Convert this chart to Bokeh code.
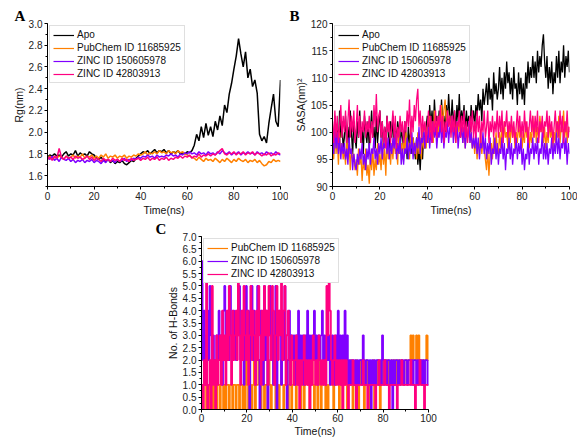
import numpy as np
from bokeh.plotting import figure
from bokeh.models import (Legend, LegendItem, SingleIntervalTicker, NumeralTickFormatter,
                          Title, Range1d, Spacer)
from bokeh.layouts import row, column
from bokeh.embed import file_html
from bokeh.resources import INLINE

series_names = ["Apo", "PubChem ID 11685925", "ZINC ID 150605978", "ZINC ID 42803913"]
series_colors = ["#000000", "#FF8000", "#8000FF", "#FF0080"]

time_rg = list(range(0, 101))                 # 1 ns sampling (Rg)
time_sasa = [i * 0.5 for i in range(201)]     # 0.5 ns sampling (SASA)
time_hb = [i * 0.5 for i in range(201)]       # 0.5 ns sampling (H-bonds)

# ---------------- Panel A : Rg (nm) ----------------
rg_apo = [1.77,1.79,1.78,1.80,1.78,1.79,1.77,1.80,1.82,1.78,
          1.80,1.79,1.83,1.78,1.81,1.79,1.80,1.78,1.82,1.80,
          1.79,1.76,1.75,1.77,1.74,1.73,1.75,1.72,1.74,1.71,
          1.73,1.72,1.74,1.71,1.70,1.72,1.74,1.73,1.76,1.78,
          1.80,1.82,1.81,1.83,1.80,1.82,1.84,1.81,1.83,1.82,
          1.84,1.81,1.83,1.80,1.82,1.81,1.83,1.80,1.81,1.80,
          1.82,1.81,1.83,1.88,1.98,1.92,2.05,1.95,2.08,1.97,
          2.05,1.96,2.10,2.02,2.15,2.06,2.25,2.18,2.35,2.45,
          2.58,2.70,2.86,2.72,2.60,2.74,2.50,2.58,2.42,2.48,
          2.36,1.98,1.92,1.96,1.90,2.08,2.22,2.35,2.10,2.05,
          2.48]
rg_pubchem = [1.76,1.78,1.75,1.77,1.76,1.78,1.77,1.75,1.78,1.76,
              1.77,1.79,1.76,1.78,1.77,1.80,1.76,1.78,1.77,1.79,
              1.76,1.78,1.76,1.79,1.77,1.80,1.76,1.78,1.77,1.79,
              1.76,1.78,1.77,1.79,1.76,1.78,1.77,1.79,1.78,1.80,
              1.79,1.80,1.82,1.79,1.81,1.80,1.82,1.80,1.83,1.81,
              1.82,1.80,1.83,1.81,1.82,1.80,1.83,1.81,1.82,1.80,
              1.79,1.78,1.77,1.76,1.74,1.77,1.75,1.73,1.76,1.74,
              1.75,1.73,1.76,1.74,1.72,1.75,1.73,1.76,1.74,1.72,
              1.75,1.73,1.76,1.74,1.73,1.75,1.72,1.74,1.73,1.75,
              1.72,1.74,1.71,1.69,1.70,1.73,1.72,1.75,1.73,1.74,
              1.73]
rg_zinc150 = [1.77,1.75,1.78,1.74,1.76,1.73,1.77,1.75,1.74,1.76,
              1.73,1.75,1.72,1.74,1.73,1.75,1.72,1.74,1.73,1.75,
              1.72,1.74,1.73,1.71,1.74,1.72,1.75,1.73,1.74,1.72,
              1.75,1.73,1.74,1.76,1.73,1.75,1.74,1.76,1.75,1.77,
              1.76,1.78,1.77,1.79,1.77,1.78,1.76,1.79,1.77,1.78,
              1.77,1.79,1.78,1.80,1.78,1.79,1.77,1.80,1.79,1.81,
              1.80,1.82,1.80,1.81,1.79,1.82,1.80,1.81,1.79,1.82,
              1.80,1.81,1.79,1.82,1.80,1.83,1.81,1.80,1.82,1.79,
              1.81,1.80,1.82,1.79,1.81,1.80,1.82,1.80,1.81,1.79,
              1.82,1.80,1.81,1.79,1.82,1.80,1.81,1.79,1.82,1.80,
              1.79]
rg_zinc428 = [1.75,1.77,1.74,1.78,1.76,1.85,1.77,1.75,1.78,1.76,
              1.77,1.75,1.78,1.76,1.77,1.75,1.76,1.78,1.75,1.77,
              1.74,1.76,1.75,1.73,1.76,1.74,1.75,1.73,1.76,1.74,
              1.75,1.73,1.76,1.74,1.75,1.73,1.76,1.74,1.75,1.76,
              1.74,1.76,1.75,1.77,1.74,1.76,1.75,1.77,1.74,1.76,
              1.75,1.77,1.74,1.76,1.75,1.77,1.76,1.78,1.76,1.78,
              1.77,1.79,1.76,1.78,1.77,1.80,1.77,1.79,1.78,1.80,
              1.78,1.80,1.79,1.81,1.83,1.85,1.80,1.79,1.81,1.80,
              1.82,1.79,1.81,1.80,1.82,1.79,1.81,1.80,1.82,1.79,
              1.81,1.80,1.78,1.80,1.79,1.81,1.78,1.80,1.79,1.81,
              1.80]

# ---------------- Panel B : SASA (nm^2), 0.5 ns ----------------
sasa_apo = [100,96,103,98,101,97,104,99,102,97, 99,103,97,101,98,104,100,96,102,99,
            97,102,99,104,98,101,96,103,100,98, 102,97,100,104,99,101,97,103,98,101,
            104,99,102,97,101,98,103,100,96,102, 99,103,97,101,98,102,100,96,101,99,
            97,102,99,95,101,98,100,96,99,97, 95,99,94,97,93,98,95,100,97,101,
            103,99,105,101,104,100,106,102,103,100, 104,101,106,102,103,100,105,102,107,103,
            102,106,101,104,100,105,102,107,101,104, 102,105,100,104,101,103,100,105,102,104,
            101,105,103,107,104,106,102,108,105,107, 109,105,110,106,108,104,111,107,109,106,
            108,112,107,110,106,111,108,113,109,111, 107,110,106,112,108,109,105,111,107,110,
            106,109,105,111,108,113,109,112,110,114, 110,113,109,115,111,114,112,116,118,113,
            110,114,108,112,109,113,107,111,109,114, 110,115,109,113,111,116,110,114,112,115,
            111]
sasa_pubchem = [98,95,101,96,99,94,100,96,98,95, 97,94,99,95,98,93,97,95,96,93,
                95,92,97,94,96,91,95,93,97,92, 94,90.5,96,93,97,92,95,93,98,94,
                96,93,98,94,97,92,99,95,97,94, 98,95,99,96,97,94,100,96,98,95,
                99,96,100,97,98,95,101,97,99,96, 98,95,100,96,99,95,101,97,99,97,
                101,98,103,99,102,98,104,100,102,99, 103,100,105,101,104,106,102,104,101,103,
                100,103,99,102,98,101,100,103,99,101, 98,101,97,100,99,102,98,100,97,99,
                96,99,95,98,97,100,96,99,97,95, 93,97,92,96,98,95,99,96,100,97,
                96,100,97,101,98,102,99,100,97,101, 98,102,99,101,97,100,98,102,99,101,
                97,100,98,102,99,101,97,100,98,103, 99,102,98,101,99,103,100,102,98,101,
                97,100,98,102,99,101,97,100,98,102, 99,103,98,101,100,104,99,102,98,101,
                100]
sasa_zinc150 = [99,96,101,97,100,96,99,95,98,96, 98,95,97,94,99,96,97,93,96,94,
                93,96,94,97,95,98,94,96,93,97, 95,98,94,97,96,99,95,97,94,98,
                96,99,95,98,97,100,96,99,95,98, 96,99,97,100,95,98,96,99,94,97,
                94,97,96,99,95,98,96,100,95,98, 96,99,97,101,96,99,98,101,97,100,
                98,101,97,100,98,102,99,101,97,100, 99,102,98,101,97,100,99,102,98,101,
                100,103,98,101,99,102,97,100,99,101, 98,101,97,100,99,102,98,100,97,99,
                97,100,96,99,95,98,97,100,96,99, 95,98,96,99,94,97,96,99,95,98,
                94,97,96,99,95,98,93,97,96,99, 95,98,94,97,96,99,95,98,96,99,
                94,97,93,96,95,99,94,97,96,99, 95,98,96,99,94,97,96,100,95,98,
                95,98,94,97,96,99,95,98,96,100, 96,99,95,98,97,100,96,99,94,98,
                96]
sasa_zinc428 = [102,98,104,99,103,98,101,105,99,103, 100,104,98,102,106,99,103,100,104,98,
                101,105,99,103,98,102,100,104,99,102, 100,103,98,102,99,105,101,107,100,103,
                104,99,102,98,101,97,103,100,102,98, 101,104,99,103,97,101,99,103,100,102,
                98,102,100,104,101,106,99,103,100,105, 102,106,108,101,104,99,103,100,102,98,
                101,104,99,103,98,102,100,104,99,103, 101,105,100,103,98,102,100,104,101,103,
                99,103,100,104,98,102,101,104,99,103, 100,104,99,102,98,101,103,100,104,99,
                102,99,104,100,103,98,102,100,104,99, 101,104,98,102,100,103,99,102,100,104,
                99,103,100,104,98,102,101,104,99,102, 100,103,99,102,98,101,104,100,103,99,
                102,99,104,100,102,98,101,104,100,103, 99,103,100,104,98,102,100,103,99,102,
                101,104,99,103,100,102,98,101,104,100, 102,99,104,100,103,98,102,100,104,99,
                101]

# ---------------- Panel C : No. of H-bonds, 0.5 ns ----------------
hb_pubchem = [1,0,1,1,0,1,0,1,1,0, 1,0,1,0,1,1,0,2,1,0,
              1,0,1,1,0,1,1,0,1,1, 0,1,1,0,1,1,0,1,0,2,
              1,0,2,1,0,1,2,0,1,1, 2,1,0,1,2,0,1,1,0,2,
              1,0,1,2,1,0,1,1,0,1, 2,1,0,1,1,2,0,1,1,0,
              1,2,1,0,1,1,2,0,1,1, 0,1,2,1,1,0,1,2,1,0,
              1,1,0,2,1,0,1,1,2,0, 1,0,1,2,1,1,0,1,1,2,
              1,0,1,1,0,2,1,1,0,1, 1,2,1,0,1,1,2,1,0,1,
              2,1,1,0,1,2,1,1,0,1, 1,2,0,1,1,2,1,0,1,2,
              1,2,2,1,2,1,1,2,1,2, 1,2,1,2,2,1,2,1,1,2,
              2,1,2,2,3,2,3,2,2,3, 2,3,2,1,2,2,1,2,3,2,
              3]
hb_zinc150 = [6,2,4,1,3,4,2,5,3,2, 3,2,1,3,2,4,2,3,1,4,
              5,2,3,4,2,5,3,2,4,3, 2,4,3,5,2,3,4,1,3,5,
              2,4,0,3,5,2,4,1,3,5, 2,0,4,3,1,5,2,4,0,3,
              5,2,4,1,3,5,0,2,4,3, 1,4,2,5,3,0,2,4,1,3,
              2,3,1,3,2,4,1,3,2,3, 1,3,2,4,2,3,1,3,2,4,
              2,3,1,3,2,3,4,2,3,1, 3,2,3,1,2,3,2,1,3,2,
              4,2,3,1,3,2,4,2,3,1, 2,1,2,2,1,2,0,2,1,2,
              2,1,3,2,1,2,2,1,2,0, 2,1,2,1,2,2,1,2,1,3,
              2,1,2,1,2,2,1,2,0,2, 1,2,2,1,2,1,2,2,1,2,
              2,1,2,2,1,2,1,2,2,1, 2,1,2,2,1,2,1,2,2,1,
              2]
hb_zinc428 = [1,0,2,1,6,0,1,2,0,5, 1,2,0,3,1,2,3,1,4,2,
              3,1,4,2,5,3,1,4,2,3, 4,2,6,3,1,4,2,5,3,2,
              4,1,3,5,2,4,3,1,4,2, 5,3,1,4,2,5,3,4,1,5,
              3,2,5,4,1,3,5,2,4,3, 6,2,4,5,1,3,4,2,1,3,
              2,1,2,3,1,2,0,2,1,2, 3,1,2,1,2,0,2,1,3,2,
              1,2,1,3,2,1,2,1,2,1, 5,3,6,4,2,1,2,3,1,2,
              1,2,1,2,0,2,1,2,1,0, 1,1,1,2,1,1,0,1,1,1,
              1,1,2,1,1,1,0,1,1,1, 1,1,1,0,1,1,2,1,1,1,
              1,2,1,1,1,0,1,1,1,1, 1,1,0,1,1,1,2,1,1,1,
              1,1,1,1,2,1,1,1,0,1, 1,1,2,1,1,1,0,1,1,1,
              1]

FONT = "Liberation Sans"


def make_fig(width, height, yr, borders, xlabel, ylabel, y_interval, y_fmt,
             letter, letter_offset):
    l, r, t, b = borders
    p = figure(width=width, height=height, x_range=Range1d(0, 100), y_range=Range1d(*yr),
               output_backend="svg", toolbar_location=None,
               min_border_left=l, min_border_right=r, min_border_top=t, min_border_bottom=b)
    p.title = Title(text=letter, align="left", offset=letter_offset, standoff=0,
                    text_font="Liberation Serif", text_font_style="bold",
                    text_font_size="15px", text_color="black")
    p.grid.visible = False
    p.outline_line_color = None
    p.background_fill_color = "white"
    p.border_fill_color = "white"
    p.xaxis.ticker = SingleIntervalTicker(interval=20, num_minor_ticks=2)
    p.yaxis.ticker = SingleIntervalTicker(interval=y_interval, num_minor_ticks=2)
    if y_fmt:
        p.yaxis.formatter = NumeralTickFormatter(format=y_fmt)
    p.xaxis.axis_label = xlabel
    p.yaxis.axis_label = ylabel
    for ax in (p.xaxis[0], p.yaxis[0]):
        ax.axis_line_color = "black"
        ax.major_tick_line_color = "black"
        ax.minor_tick_line_color = "black"
        ax.major_tick_out = 3
        ax.major_tick_in = 0
        ax.minor_tick_out = 2
        ax.minor_tick_in = 0
        ax.major_label_text_font = FONT
        ax.major_label_text_font_size = "10px"
        ax.major_label_text_color = "#222222"
        ax.major_label_standoff = 2
        ax.axis_label_text_font = FONT
        ax.axis_label_text_font_size = "10.5px"
        ax.axis_label_text_font_style = "normal"
        ax.axis_label_text_color = "#111111"
        ax.axis_label_standoff = 1
    return p


def add_legend(p, names, colors, xs, ys_list):
    # hidden thin copies of each trace serve as legend swatches
    swatches = [p.line(xs, ys, line_color=c, line_width=1.2, visible=False)
                for c, ys in zip(colors, ys_list)]
    items = [LegendItem(label=n, renderers=[r]) for n, r in zip(names, swatches)]
    lg = Legend(items=items, location="top_left",
                label_text_font=FONT, label_text_font_size="10px", label_text_color="#111111",
                label_height=10, glyph_height=10, glyph_width=21, label_standoff=3,
                spacing=2, padding=3, margin=2,
                border_line_color="#c0c0c0", border_line_width=1,
                background_fill_color="white", background_fill_alpha=1.0)
    p.add_layout(lg)


# Panel A
rg_series = [rg_apo, rg_pubchem, rg_zinc150, rg_zinc428]
pA = make_fig(288, 218, (1.5, 3.0), (47, 8, 23, 30), "Time(ns)", "Rg(nm)", 0.2, "0.0", "A", -33)
for ys, c in zip(rg_series, series_colors):
    pA.line(time_rg, ys, line_color=c, line_width=1.5)
add_legend(pA, series_names, series_colors, time_rg, rg_series)

# Panel B
sasa_series = [sasa_apo, sasa_pubchem, sasa_zinc150, sasa_zinc428]
pB = make_fig(289, 218, (90, 120), (44, 8, 22, 31), "Time(ns)", "SASA(nm)²", 5, None, "B", -43)
for ys, c in zip(sasa_series, series_colors):
    pB.line(time_sasa, ys, line_color=c, line_width=1.3)
add_legend(pB, series_names, series_colors, time_sasa, sasa_series)

# Panel C
hb_series = [hb_pubchem, hb_zinc150, hb_zinc428]
pC = make_fig(293, 221, (0, 7), (51, 15, 13, 27), "Time(ns)", "No. of H-Bonds", 0.5, "0.0", "C", -46)
pC.xaxis.axis_label_standoff = 0
pC.xaxis.major_label_standoff = 1
for ys, c in zip(hb_series, series_colors[1:]):
    pC.step(time_hb, ys, mode="after", line_color=c, line_width=1.7)
add_legend(pC, series_names[1:], series_colors[1:], time_hb, hb_series)

layout = column(row(pA, pB), row(Spacer(width=150, height=221), pC))

open("out.html", "w").write(file_html(layout, INLINE))
